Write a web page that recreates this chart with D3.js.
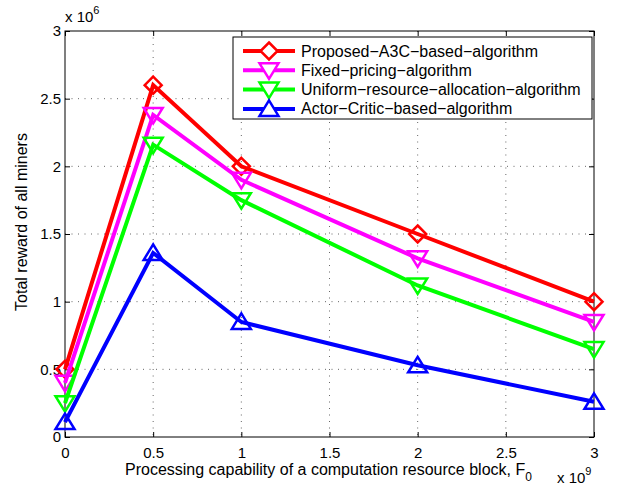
<!DOCTYPE html>
<html>
<head>
<meta charset="utf-8">
<script src="https://cdn.jsdelivr.net/npm/d3@7"></script>
<style>
  body { margin: 0; background: #fff; }
  svg { font-family: "Liberation Sans", Arial, Helvetica, sans-serif; }
</style>
</head>
<body>
<div id="chart"></div>
<script>
// 데이터
const xValues = [0, 0.5, 1, 2, 3];
const seriesNames = [
  "Proposed\u2212A3C\u2212based\u2212algorithm",
  "Fixed\u2212pricing\u2212algorithm",
  "Uniform\u2212resource\u2212allocation\u2212algorithm",
  "Actor\u2212Critic\u2212based\u2212algorithm"
];
const proposedA3C = [0.5, 2.6, 2.0, 1.5, 1.0];
const fixedPricing = [0.4, 2.38, 1.9, 1.32, 0.85];
const uniformAlloc = [0.25, 2.16, 1.75, 1.12, 0.65];
const actorCritic = [0.11, 1.36, 0.85, 0.53, 0.26];
const xTicks = [0, 0.5, 1, 1.5, 2, 2.5, 3];
const yTicks = [0, 0.5, 1, 1.5, 2, 2.5, 3];

const seriesValues = [proposedA3C, fixedPricing, uniformAlloc, actorCritic];
const colors = ["#ff0000", "#ff00ff", "#00ff00", "#0000ff"];
const markers = ["diamond", "down", "down", "up"];

const width = 618, height = 487;
const margin = { top: 31, right: 24, bottom: 50, left: 65 };
const w = width - margin.left - margin.right;
const h = height - margin.top - margin.bottom;

const svg = d3.select("#chart").append("svg")
  .attr("width", width).attr("height", height);
const g = svg.append("g")
  .attr("transform", `translate(${margin.left},${margin.top})`);

const x = d3.scaleLinear().domain([0, 3]).range([0, w]);
const y = d3.scaleLinear().domain([0, 3]).range([h, 0]);

// 그리드 (점선)
g.selectAll(".vgrid").data(xTicks.slice(1, -1)).enter().append("line")
  .attr("x1", d => x(d)).attr("x2", d => x(d))
  .attr("y1", 0).attr("y2", h)
  .attr("stroke", "#555").attr("stroke-width", 0.9)
  .attr("stroke-dasharray", "1,5.5");
g.selectAll(".hgrid").data(yTicks.slice(1, -1)).enter().append("line")
  .attr("x1", 0).attr("x2", w)
  .attr("y1", d => y(d)).attr("y2", d => y(d))
  .attr("stroke", "#555").attr("stroke-width", 0.9)
  .attr("stroke-dasharray", "1,5.5");

// 축 상자
g.append("rect").attr("width", w).attr("height", h)
  .attr("fill", "none").attr("stroke", "#000").attr("stroke-width", 1);

const fmt = d => (d === 0 ? "0" : d3.format("")(d));
const xAxis = g.append("g").attr("transform", `translate(0,${h})`)
  .call(d3.axisBottom(x).tickValues(xTicks).tickFormat(fmt).tickSizeInner(-5).tickSizeOuter(0).tickPadding(10));
const xAxisTop = g.append("g")
  .call(d3.axisTop(x).tickValues(xTicks).tickFormat("").tickSizeInner(-5).tickSizeOuter(0));
const yAxis = g.append("g")
  .call(d3.axisLeft(y).tickValues(yTicks).tickFormat(fmt).tickSizeInner(-5).tickSizeOuter(0).tickPadding(4));
const yAxisRight = g.append("g").attr("transform", `translate(${w},0)`)
  .call(d3.axisRight(y).tickValues(yTicks).tickFormat("").tickSizeInner(-5).tickSizeOuter(0));
[xAxis, xAxisTop, yAxis, yAxisRight].forEach(a => {
  a.select(".domain").remove();
  a.selectAll("text").style("font-size", "15px").attr("fill", "#000")
    .style("font-family", "'Liberation Sans', Arial, sans-serif");
});

// 마커 경로
function markerPath(type, cx, cy) {
  if (type === "diamond") {
    const r = 8.5;
    return `M${cx},${cy - r}L${cx + r},${cy}L${cx},${cy + r}L${cx - r},${cy}Z`;
  }
  const s = 9.5;
  if (type === "down") {
    return `M${cx - s},${cy - 7}L${cx + s},${cy - 7}L${cx},${cy + 8.5}Z`;
  }
  return `M${cx - s},${cy + 7}L${cx + s},${cy + 7}L${cx},${cy - 8.5}Z`;
}

const line = d3.line().x((d, i) => x(xValues[i])).y(d => y(d));

seriesValues.forEach((vals, si) => {
  g.append("path").datum(vals)
    .attr("d", line)
    .attr("fill", "none").attr("stroke", colors[si])
    .attr("stroke-width", 4).attr("stroke-linejoin", "miter");
  g.selectAll(".m" + si).data(vals).enter().append("path")
    .attr("d", (d, i) => markerPath(markers[si], x(xValues[i]), y(d)))
    .attr("fill", "none").attr("stroke", colors[si]).attr("stroke-width", 2.5);
});

// 범례
const lg = svg.append("g").attr("transform", "translate(233,37)");
lg.append("rect").attr("width", 359).attr("height", 82)
  .attr("fill", "#fff").attr("stroke", "#000").attr("stroke-width", 1);
seriesNames.forEach((name, i) => {
  const ry = 14 + i * 19.3;
  lg.append("line").attr("x1", 10).attr("x2", 62).attr("y1", ry).attr("y2", ry)
    .attr("stroke", colors[i]).attr("stroke-width", 4);
  lg.append("path").attr("d", markerPath(markers[i], 36, ry))
    .attr("fill", "#fff").attr("stroke", colors[i]).attr("stroke-width", 2.5);
  lg.append("text").attr("x", 68).attr("y", ry + 5.5)
    .style("font-size", "16px").text(name);
});

// 축 제목
svg.append("text")
  .attr("x", 125).attr("y", 475)
  .style("font-size", "16px")
  .text("Processing capability of a computation resource block, F")
  .append("tspan").attr("dy", 6).style("font-size", "12px").text("0");

svg.append("text")
  .attr("transform", `translate(27,222) rotate(-90)`)
  .attr("text-anchor", "middle").style("font-size", "16px")
  .text("Total reward of all miners");

// 지수 표시
const e6 = svg.append("text").attr("x", 65).attr("y", 22).style("font-size", "15px");
e6.append("tspan").text("x 10");
e6.append("tspan").attr("dy", -8).style("font-size", "11px").text("6");

const e9 = svg.append("text").attr("x", 557).attr("y", 483).style("font-size", "15px");
e9.append("tspan").text("x 10");
e9.append("tspan").attr("dy", -8).style("font-size", "11px").text("9");
</script>
</body>
</html>
